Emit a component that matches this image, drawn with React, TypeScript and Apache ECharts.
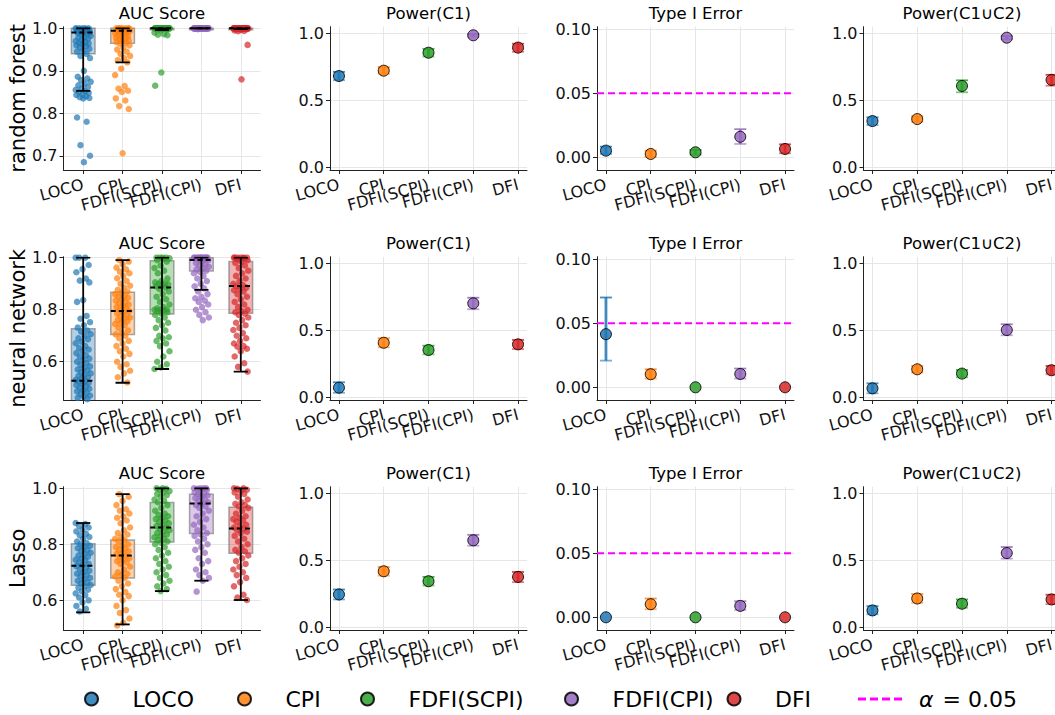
import React, { useEffect, useRef } from 'react';
import * as echarts from 'echarts';

const FONT = 'DejaVu Sans';

// ---------------- data ----------------
const methods = ['LOCO', 'CPI', 'FDFI(SCPI)', 'FDFI(CPI)', 'DFI'];
const methodColors = ['#1f77b4', '#ff7f0e', '#2ca02c', '#9467bd', '#d62728'];
const models = ['random forest', 'neural network', 'Lasso'];
const panelTitles = ['AUC Score', 'Power(C1)', 'Type I Error', 'Power(C1∪C2)'];

const aucTicksRF = [0.7, 0.8, 0.9, 1.0];
const aucTicksNN = [0.6, 0.8, 1.0];
const aucTicksLasso = [0.6, 0.8, 1.0];
const powerTicks = [0, 0.5, 1.0];
const typeITicks = [0, 0.05, 0.1];
const alphaLevel = 0.05;
const alphaLabel = 'α = 0.05';

// box stats per method: [whiskerLow, Q1, median, Q3, whiskerHigh]
const boxStatsRF = [
  [0.853, 0.94, 0.99, 1.0, 1.0],
  [0.92, 0.965, 0.994, 1.0, 1.0],
  [0.996, 0.999, 1.0, 1.0, 1.0],
  [1.0, 0.9995, 1.0, 1.0, 1.0],
  [0.998, 0.999, 1.0, 1.0, 1.0],
];
const boxStatsNN = [
  [0.3, 0.44, 0.527, 0.727, 1.0],
  [0.519, 0.705, 0.795, 0.867, 0.991],
  [0.572, 0.783, 0.885, 0.988, 1.0],
  [0.876, 0.949, 0.991, 1.0, 1.0],
  [0.562, 0.786, 0.891, 0.985, 1.0],
];
const boxStatsLasso = [
  [0.557, 0.654, 0.723, 0.802, 0.876],
  [0.514, 0.68, 0.76, 0.815, 0.979],
  [0.633, 0.808, 0.86, 0.949, 1.0],
  [0.67, 0.839, 0.946, 0.979, 1.0],
  [0.601, 0.768, 0.856, 0.932, 1.0],
];

// AUC scores (strip points)
const aucRF_LOCO = [1.0, 1.0, 1.0, 1.0, 1.0, 0.999, 0.998, 0.997, 0.996, 0.995, 0.994, 0.993, 0.992, 0.99, 0.99, 0.989, 0.987, 0.985, 0.982, 0.98, 0.978, 0.975, 0.972, 0.97, 0.968, 0.966, 0.964, 0.962, 0.96, 0.958, 0.955, 0.952, 0.948, 0.945, 0.94, 0.935, 0.93, 0.9, 0.886, 0.882, 0.878, 0.874, 0.87, 0.866, 0.862, 0.858, 0.855, 0.852, 0.85, 0.848, 0.845, 0.843, 0.84, 0.838, 0.836, 0.835, 0.79, 0.78, 0.725, 0.7, 0.685];
const aucRF_CPI = [1.0, 1.0, 1.0, 1.0, 1.0, 1.0, 0.999, 0.998, 0.997, 0.996, 0.995, 0.994, 0.993, 0.992, 0.991, 0.99, 0.988, 0.986, 0.984, 0.982, 0.98, 0.978, 0.976, 0.974, 0.972, 0.97, 0.968, 0.966, 0.964, 0.96, 0.955, 0.95, 0.945, 0.94, 0.935, 0.93, 0.925, 0.92, 0.905, 0.89, 0.864, 0.858, 0.853, 0.85, 0.835, 0.83, 0.817, 0.81, 0.706];
const aucRF_SCPI = [1.0, 1.0, 1.0, 1.0, 1.0, 1.0, 1.0, 1.0, 1.0, 1.0, 1.0, 1.0, 1.0, 1.0, 1.0, 1.0, 1.0, 1.0, 1.0, 1.0, 1.0, 1.0, 1.0, 1.0, 1.0, 1.0, 1.0, 1.0, 0.999, 0.998, 0.997, 0.995, 0.99, 0.986, 0.985, 0.984, 0.896, 0.865];
const aucRF_FCPI = [1.0, 1.0, 1.0, 1.0, 1.0, 1.0, 1.0, 1.0, 1.0, 1.0, 1.0, 1.0, 1.0, 1.0, 1.0, 1.0, 1.0, 1.0, 1.0, 1.0, 1.0, 1.0, 1.0, 1.0, 1.0, 1.0, 1.0, 1.0, 1.0, 1.0, 0.999, 0.999, 0.998];
const aucRF_DFI = [1.0, 1.0, 1.0, 1.0, 1.0, 1.0, 1.0, 1.0, 1.0, 1.0, 1.0, 1.0, 1.0, 1.0, 1.0, 1.0, 1.0, 1.0, 1.0, 1.0, 1.0, 1.0, 1.0, 1.0, 1.0, 0.999, 0.998, 0.996, 0.995, 0.994, 0.993, 0.961, 0.88];

const aucNN_LOCO = [1.0, 1.0, 1.0, 0.972, 0.956, 0.944, 0.92, 0.912, 0.905, 0.837, 0.83, 0.776, 0.765, 0.752, 0.74, 0.731, 0.72, 0.715, 0.706, 0.7, 0.69, 0.686, 0.677, 0.671, 0.66, 0.653, 0.647, 0.64, 0.633, 0.625, 0.619, 0.612, 0.606, 0.6, 0.594, 0.588, 0.582, 0.576, 0.57, 0.566, 0.56, 0.555, 0.551, 0.545, 0.54, 0.536, 0.53, 0.527, 0.523, 0.518, 0.514, 0.51, 0.505, 0.5, 0.496, 0.49, 0.486, 0.481, 0.476, 0.47, 0.466, 0.461, 0.456, 0.44, 0.43];
const aucNN_CPI = [0.991, 0.985, 0.975, 0.962, 0.955, 0.946, 0.94, 0.93, 0.921, 0.91, 0.9, 0.892, 0.885, 0.876, 0.87, 0.864, 0.86, 0.855, 0.85, 0.846, 0.84, 0.835, 0.83, 0.825, 0.82, 0.815, 0.81, 0.806, 0.8, 0.795, 0.79, 0.785, 0.78, 0.775, 0.77, 0.765, 0.76, 0.755, 0.75, 0.745, 0.74, 0.73, 0.72, 0.71, 0.705, 0.7, 0.69, 0.68, 0.67, 0.66, 0.65, 0.64, 0.63, 0.62, 0.6, 0.59, 0.58, 0.565, 0.555, 0.54, 0.52];
const aucNN_SCPI = [1.0, 1.0, 1.0, 1.0, 0.998, 0.995, 0.99, 0.985, 0.97, 0.96, 0.95, 0.94, 0.92, 0.91, 0.905, 0.9, 0.9, 0.898, 0.895, 0.89, 0.885, 0.88, 0.87, 0.86, 0.85, 0.84, 0.83, 0.82, 0.81, 0.805, 0.8, 0.8, 0.8, 0.798, 0.795, 0.79, 0.785, 0.78, 0.77, 0.76, 0.75, 0.74, 0.73, 0.72, 0.7, 0.694, 0.69, 0.68, 0.67, 0.66, 0.64, 0.62, 0.6, 0.59, 0.578, 0.572];
const aucNN_FCPI = [1.0, 1.0, 1.0, 1.0, 1.0, 1.0, 1.0, 1.0, 1.0, 1.0, 1.0, 1.0, 0.998, 0.995, 0.992, 0.99, 0.985, 0.98, 0.975, 0.97, 0.965, 0.96, 0.955, 0.95, 0.945, 0.94, 0.93, 0.92, 0.91, 0.9, 0.89, 0.882, 0.87, 0.86, 0.85, 0.844, 0.835, 0.83, 0.82, 0.81, 0.8, 0.79, 0.78, 0.77, 0.76];
const aucNN_DFI = [1.0, 1.0, 1.0, 1.0, 1.0, 1.0, 0.998, 0.995, 0.99, 0.985, 0.98, 0.97, 0.96, 0.95, 0.94, 0.93, 0.92, 0.91, 0.9, 0.895, 0.89, 0.885, 0.88, 0.875, 0.87, 0.86, 0.85, 0.84, 0.83, 0.82, 0.81, 0.8, 0.795, 0.79, 0.785, 0.78, 0.77, 0.76, 0.75, 0.74, 0.73, 0.722, 0.71, 0.7, 0.69, 0.68, 0.67, 0.66, 0.658, 0.65, 0.64, 0.62, 0.594, 0.58, 0.562];

const aucLA_LOCO = [0.876, 0.872, 0.866, 0.86, 0.852, 0.846, 0.838, 0.832, 0.826, 0.82, 0.81, 0.804, 0.8, 0.795, 0.79, 0.786, 0.78, 0.776, 0.77, 0.766, 0.76, 0.756, 0.75, 0.745, 0.742, 0.736, 0.73, 0.726, 0.722, 0.716, 0.71, 0.706, 0.7, 0.695, 0.69, 0.686, 0.68, 0.675, 0.67, 0.664, 0.66, 0.655, 0.65, 0.645, 0.638, 0.632, 0.625, 0.618, 0.61, 0.6, 0.592, 0.58, 0.57, 0.56];
const aucLA_CPI = [0.979, 0.97, 0.955, 0.94, 0.925, 0.92, 0.91, 0.9, 0.895, 0.885, 0.875, 0.86, 0.85, 0.84, 0.835, 0.825, 0.82, 0.815, 0.81, 0.8, 0.795, 0.79, 0.785, 0.78, 0.775, 0.77, 0.765, 0.76, 0.755, 0.75, 0.745, 0.74, 0.735, 0.73, 0.72, 0.71, 0.7, 0.695, 0.69, 0.685, 0.68, 0.67, 0.66, 0.65, 0.64, 0.63, 0.62, 0.615, 0.6, 0.58, 0.565, 0.555, 0.535, 0.52, 0.51];
const aucLA_SCPI = [1.0, 1.0, 0.998, 0.995, 0.99, 0.985, 0.98, 0.975, 0.97, 0.96, 0.955, 0.95, 0.94, 0.93, 0.92, 0.91, 0.905, 0.9, 0.895, 0.89, 0.885, 0.88, 0.875, 0.87, 0.865, 0.86, 0.855, 0.85, 0.845, 0.84, 0.835, 0.83, 0.825, 0.82, 0.815, 0.81, 0.805, 0.8, 0.79, 0.78, 0.77, 0.76, 0.75, 0.74, 0.73, 0.72, 0.71, 0.7, 0.69, 0.68, 0.67, 0.66, 0.65, 0.64, 0.633];
const aucLA_FCPI = [1.0, 1.0, 1.0, 1.0, 0.998, 0.995, 0.99, 0.985, 0.98, 0.978, 0.975, 0.97, 0.965, 0.96, 0.955, 0.95, 0.946, 0.94, 0.935, 0.93, 0.92, 0.91, 0.9, 0.89, 0.88, 0.87, 0.86, 0.85, 0.84, 0.835, 0.83, 0.82, 0.81, 0.8, 0.79, 0.78, 0.77, 0.75, 0.74, 0.73, 0.71, 0.7, 0.69, 0.68, 0.67, 0.631];
const aucLA_DFI = [1.0, 1.0, 0.998, 0.995, 0.99, 0.985, 0.98, 0.97, 0.96, 0.95, 0.945, 0.94, 0.935, 0.93, 0.92, 0.91, 0.9, 0.895, 0.89, 0.885, 0.88, 0.87, 0.865, 0.86, 0.855, 0.85, 0.845, 0.84, 0.83, 0.82, 0.81, 0.8, 0.79, 0.78, 0.775, 0.77, 0.76, 0.75, 0.74, 0.73, 0.72, 0.71, 0.7, 0.69, 0.68, 0.665, 0.65, 0.62, 0.61, 0.601];

// metric means and confidence bounds per method
const powerC1_RF_mean = [0.681, 0.721, 0.855, 0.985, 0.893];
const powerC1_RF_lo = [0.65, 0.697, 0.826, 0.976, 0.862];
const powerC1_RF_hi = [0.712, 0.748, 0.884, 0.994, 0.922];
const typeI_RF_mean = [0.0052, 0.0026, 0.0039, 0.016, 0.0065];
const typeI_RF_lo = [0.0026, 0.0003, 0.0022, 0.0104, 0.0031];
const typeI_RF_hi = [0.0083, 0.0052, 0.0058, 0.0219, 0.0101];
const powerC12_RF_mean = [0.345, 0.36, 0.607, 0.967, 0.652];
const powerC12_RF_lo = [0.316, 0.34, 0.56, 0.955, 0.609];
const powerC12_RF_hi = [0.373, 0.38, 0.649, 0.979, 0.69];

const powerC1_NN_mean = [0.072, 0.407, 0.353, 0.701, 0.395];
const powerC1_NN_lo = [0.034, 0.373, 0.321, 0.657, 0.36];
const powerC1_NN_hi = [0.112, 0.44, 0.385, 0.743, 0.428];
const typeI_NN_mean = [0.0414, 0.0102, 0, 0.0104, 0];
const typeI_NN_lo = [0.0208, 0.0068, 0, 0.0068, 0];
const typeI_NN_hi = [0.07, 0.014, 0, 0.0146, 0];
const powerC12_NN_mean = [0.067, 0.209, 0.177, 0.502, 0.202];
const powerC12_NN_lo = [0.03, 0.184, 0.149, 0.463, 0.172];
const powerC12_NN_hi = [0.104, 0.234, 0.204, 0.545, 0.234];

const powerC1_LA_mean = [0.245, 0.418, 0.344, 0.649, 0.376];
const powerC1_LA_lo = [0.208, 0.386, 0.312, 0.609, 0.337];
const powerC1_LA_hi = [0.282, 0.45, 0.376, 0.69, 0.413];
const typeI_LA_mean = [0, 0.0102, 0, 0.0089, 0];
const typeI_LA_lo = [0, 0.0063, 0, 0.0057, 0];
const typeI_LA_hi = [0, 0.0146, 0, 0.0125, 0];
const powerC12_LA_mean = [0.126, 0.215, 0.176, 0.554, 0.208];
const powerC12_LA_lo = [0.097, 0.183, 0.146, 0.512, 0.173];
const powerC12_LA_hi = [0.158, 0.248, 0.208, 0.599, 0.243];

// ---------------- layout (not data) ----------------
const colLeft = [63.5, 330, 597, 863.5];
const rowTop = [26.7, 256.7, 486.7];
const panelW = 197;
const panelH = 143.3;
const aucRange = [[0.6666, 1.0038], [0.4527, 1.0038], [0.494, 1.0057]];
const powerRange = [-0.02, 1.049];
const typeIRange = [-0.0099, 0.1018];
const legendLeft = [84, 237, 360, 564, 726.5];

function rgba(hex: string, a: number) {
  const n = parseInt(hex.slice(1), 16);
  return `rgba(${(n >> 16) & 255},${(n >> 8) & 255},${n & 255},${a})`;
}
const jitter = (j: number) => ((((j * 37) % 23) / 22) - 0.5) * 0.38;

function buildOption() {
  const boxStats = [boxStatsRF, boxStatsNN, boxStatsLasso];
  const aucPoints = [
    [aucRF_LOCO, aucRF_CPI, aucRF_SCPI, aucRF_FCPI, aucRF_DFI],
    [aucNN_LOCO, aucNN_CPI, aucNN_SCPI, aucNN_FCPI, aucNN_DFI],
    [aucLA_LOCO, aucLA_CPI, aucLA_SCPI, aucLA_FCPI, aucLA_DFI],
  ];
  const aucTicks = [aucTicksRF, aucTicksNN, aucTicksLasso];
  const metrics = [
    [
      [powerC1_RF_mean, powerC1_RF_lo, powerC1_RF_hi],
      [typeI_RF_mean, typeI_RF_lo, typeI_RF_hi],
      [powerC12_RF_mean, powerC12_RF_lo, powerC12_RF_hi],
    ],
    [
      [powerC1_NN_mean, powerC1_NN_lo, powerC1_NN_hi],
      [typeI_NN_mean, typeI_NN_lo, typeI_NN_hi],
      [powerC12_NN_mean, powerC12_NN_lo, powerC12_NN_hi],
    ],
    [
      [powerC1_LA_mean, powerC1_LA_lo, powerC1_LA_hi],
      [typeI_LA_mean, typeI_LA_lo, typeI_LA_hi],
      [powerC12_LA_mean, powerC12_LA_lo, powerC12_LA_hi],
    ],
  ];

  const renderBox = (params: any, api: any) => {
    const i = api.value(0);
    const q1 = api.value(2);
    const q3 = api.value(4);
    const a = api.coord([i, q3]);
    const b = api.coord([i, q1]);
    const w = api.size([0.6, 0])[0];
    const h = Math.max(b[1] - a[1], 1.5);
    return {
      type: 'rect',
      shape: { x: a[0] - w / 2, y: a[1], width: w, height: h },
      style: { fill: rgba(methodColors[i], 0.35), stroke: 'rgba(110,110,110,0.6)', lineWidth: 1.5 },
    };
  };
  const renderWhisker = (params: any, api: any) => {
    const i = api.value(0);
    const wl = api.value(1);
    const med = api.value(3);
    const wh = api.value(5);
    const lo = api.coord([i, wl]);
    const hi = api.coord([i, wh]);
    const md = api.coord([i, med]);
    const cw = api.size([0.36, 0])[0];
    const bw = api.size([0.6, 0])[0];
    const stroke = '#000';
    return {
      type: 'group',
      children: [
        { type: 'line', shape: { x1: lo[0], y1: lo[1], x2: hi[0], y2: hi[1] }, style: { stroke, lineWidth: 1.8 } },
        { type: 'line', shape: { x1: lo[0] - cw / 2, y1: lo[1], x2: lo[0] + cw / 2, y2: lo[1] }, style: { stroke, lineWidth: 1.8 } },
        { type: 'line', shape: { x1: hi[0] - cw / 2, y1: hi[1], x2: hi[0] + cw / 2, y2: hi[1] }, style: { stroke, lineWidth: 1.8 } },
        { type: 'line', shape: { x1: md[0] - bw / 2, y1: md[1], x2: md[0] + bw / 2, y2: md[1] }, style: { stroke, lineWidth: 2, lineDash: [5, 3] } },
      ],
    };
  };
  const renderErr = (params: any, api: any) => {
    const i = api.value(0);
    const lo = api.value(2);
    const hi = api.value(3);
    if (!(hi > lo)) return { type: 'group', children: [] };
    const a = api.coord([i, lo]);
    const b = api.coord([i, hi]);
    const stroke = rgba(methodColors[i], 0.85);
    const capStroke = rgba(methodColors[i], 0.6);
    const cw = 6;
    return {
      type: 'group',
      children: [
        { type: 'line', shape: { x1: a[0], y1: a[1], x2: b[0], y2: b[1] }, style: { stroke, lineWidth: 2.8 } },
        { type: 'line', shape: { x1: a[0] - cw, y1: a[1], x2: a[0] + cw, y2: a[1] }, style: { stroke: capStroke, lineWidth: 1.8 } },
        { type: 'line', shape: { x1: b[0] - cw, y1: b[1], x2: b[0] + cw, y2: b[1] }, style: { stroke, lineWidth: 1.8 } },
      ],
    };
  };

  const grids: any[] = [];
  const xAxes: any[] = [];
  const yAxes: any[] = [];
  const titles: any[] = [];
  const series: any[] = [];
  const axisColor = '#222';
  const gridColor = '#e6e6e6';

  for (let r = 0; r < 3; r++) {
    for (let c = 0; c < 4; c++) {
      const g = r * 4 + c;
      const isAUC = c === 0;
      const isTypeI = c === 2;
      const xMin = isAUC ? -0.5 : -0.2;
      const xMax = isAUC ? 4.5 : 4.2;
      grids.push({
        left: colLeft[c], top: rowTop[r], width: panelW, height: panelH,
        containLabel: false, outerBoundsMode: 'none',
      });
      xAxes.push({
        type: 'value', gridIndex: g, min: xMin, max: xMax,
        axisLine: { show: true, onZero: false, lineStyle: { color: axisColor, width: 1 } },
        axisTick: { show: true, length: 4, customValues: [0, 1, 2, 3, 4], lineStyle: { color: axisColor } },
        axisLabel: {
          customValues: [0, 1, 2, 3, 4], rotate: 15, margin: 14, fontSize: 16, color: '#111', fontFamily: FONT,
          formatter: (v: number) => methods[Math.round(v)] ?? '',
        },
        splitLine: { show: true, lineStyle: { color: gridColor, width: 1 } },
      });
      const yr = isAUC ? aucRange[r] : isTypeI ? typeIRange : powerRange;
      const yt = isAUC ? aucTicks[r] : isTypeI ? typeITicks : powerTicks;
      yAxes.push({
        type: 'value', gridIndex: g, min: yr[0], max: yr[1],
        axisLine: { show: true, onZero: false, lineStyle: { color: axisColor, width: 1 } },
        axisTick: { show: true, length: 4, customValues: yt, lineStyle: { color: axisColor } },
        axisLabel: {
          customValues: yt, margin: 6, fontSize: 16, color: '#111', fontFamily: FONT,
          formatter: (v: number) => (isTypeI ? v.toFixed(2) : v.toFixed(1)),
        },
        splitLine: { show: true, lineStyle: { color: gridColor, width: 1 } },
        name: isAUC ? models[r] : '',
        nameLocation: 'middle', nameGap: 35, nameRotate: 90,
        nameTextStyle: { fontSize: 21, color: '#000', fontFamily: FONT },
      });
      titles.push({
        text: panelTitles[c], left: colLeft[c] + panelW / 2, top: rowTop[r] - 23.4, textAlign: 'center', padding: 0,
        textStyle: { fontSize: 16.5, fontWeight: 'normal', color: '#000', fontFamily: FONT, lineHeight: 20 },
      });

      if (isAUC) {
        series.push({
          type: 'custom', xAxisIndex: g, yAxisIndex: g, z: 1, clip: true, silent: true,
          renderItem: renderBox,
          encode: { x: 0, y: [1, 2, 3, 4, 5] },
          data: boxStats[r].map((s, i) => [i, ...s]),
        });
        aucPoints[r].forEach((pts, i) => {
          series.push({
            type: 'scatter', name: methods[i] + ' AUC', xAxisIndex: g, yAxisIndex: g, z: 2, clip: true, silent: true,
            symbolSize: 6.5, itemStyle: { color: methodColors[i], opacity: 0.7 },
            data: pts.map((v, j) => [i + jitter(j + i * 7), v]),
          });
        });
        series.push({
          type: 'custom', xAxisIndex: g, yAxisIndex: g, z: 3, clip: true, silent: true,
          renderItem: renderWhisker,
          encode: { x: 0, y: [1, 2, 3, 4, 5] },
          data: boxStats[r].map((s, i) => [i, ...s]),
        });
      } else {
        const [mean, lo, hi] = metrics[r][c - 1];
        if (isTypeI) {
          series.push({
            type: 'line', name: alphaLabel, xAxisIndex: g, yAxisIndex: g, z: 1, silent: true,
            symbol: 'none', data: [[xMin, alphaLevel], [xMax, alphaLevel]],
            lineStyle: { color: '#ff00ff', width: 2, type: [7, 4] }, itemStyle: { color: '#ff00ff' },
          });
        }
        series.push({
          type: 'custom', xAxisIndex: g, yAxisIndex: g, z: 2, silent: true,
          renderItem: renderErr,
          encode: { x: 0, y: [1, 2, 3] },
          data: methods.map((_, i) => [i, mean[i], lo[i], hi[i]]),
        });
        methods.forEach((name, i) => {
          series.push({
            type: 'scatter', name, xAxisIndex: g, yAxisIndex: g, z: 3, silent: true,
            symbolSize: 11,
            itemStyle: { color: methodColors[i], borderColor: '#000', borderWidth: 1, opacity: 0.85 },
            data: [[i, mean[i]]],
          });
        });
      }
    }
  }

  const legends: any[] = methods.map((m, i) => ({
    data: [m], left: legendLeft[i], top: 688, padding: 0, itemWidth: 72, itemHeight: 13,
    icon: 'circle', selectedMode: false,
    textStyle: { fontSize: 22, color: '#000', fontFamily: FONT },
  }));
  legends.push({
    data: [alphaLabel], left: 858, top: 688, padding: 0, itemWidth: 44, itemHeight: 3,
    icon: 'path://M0,0H8V3H0Z M12,0H20V3H12Z M24,0H32V3H24Z M36,0H44V3H36Z',
    selectedMode: false,
    itemStyle: { color: '#ff00ff', borderWidth: 0 },
    formatter: () => '{a|α} = 0.05',
    textStyle: {
      fontSize: 22, color: '#000', fontFamily: FONT,
      rich: { a: { fontStyle: 'italic', fontSize: 22, color: '#000', fontFamily: FONT, padding: [0, 2, 0, 12] } },
    },
  });

  return {
    animation: false,
    backgroundColor: '#fff',
    textStyle: { fontFamily: FONT },
    title: titles,
    legend: legends,
    grid: grids,
    xAxis: xAxes,
    yAxis: yAxes,
    series,
  };
}

export default function App() {
  const ref = useRef<HTMLDivElement>(null);
  useEffect(() => {
    document.body.style.margin = '0';
    const chart = echarts.init(ref.current as HTMLDivElement, null, { renderer: 'svg' });
    chart.setOption(buildOption() as any);
    return () => chart.dispose();
  }, []);
  return <div ref={ref} style={{ width: 1055, height: 715, background: '#fff' }} />;
}
